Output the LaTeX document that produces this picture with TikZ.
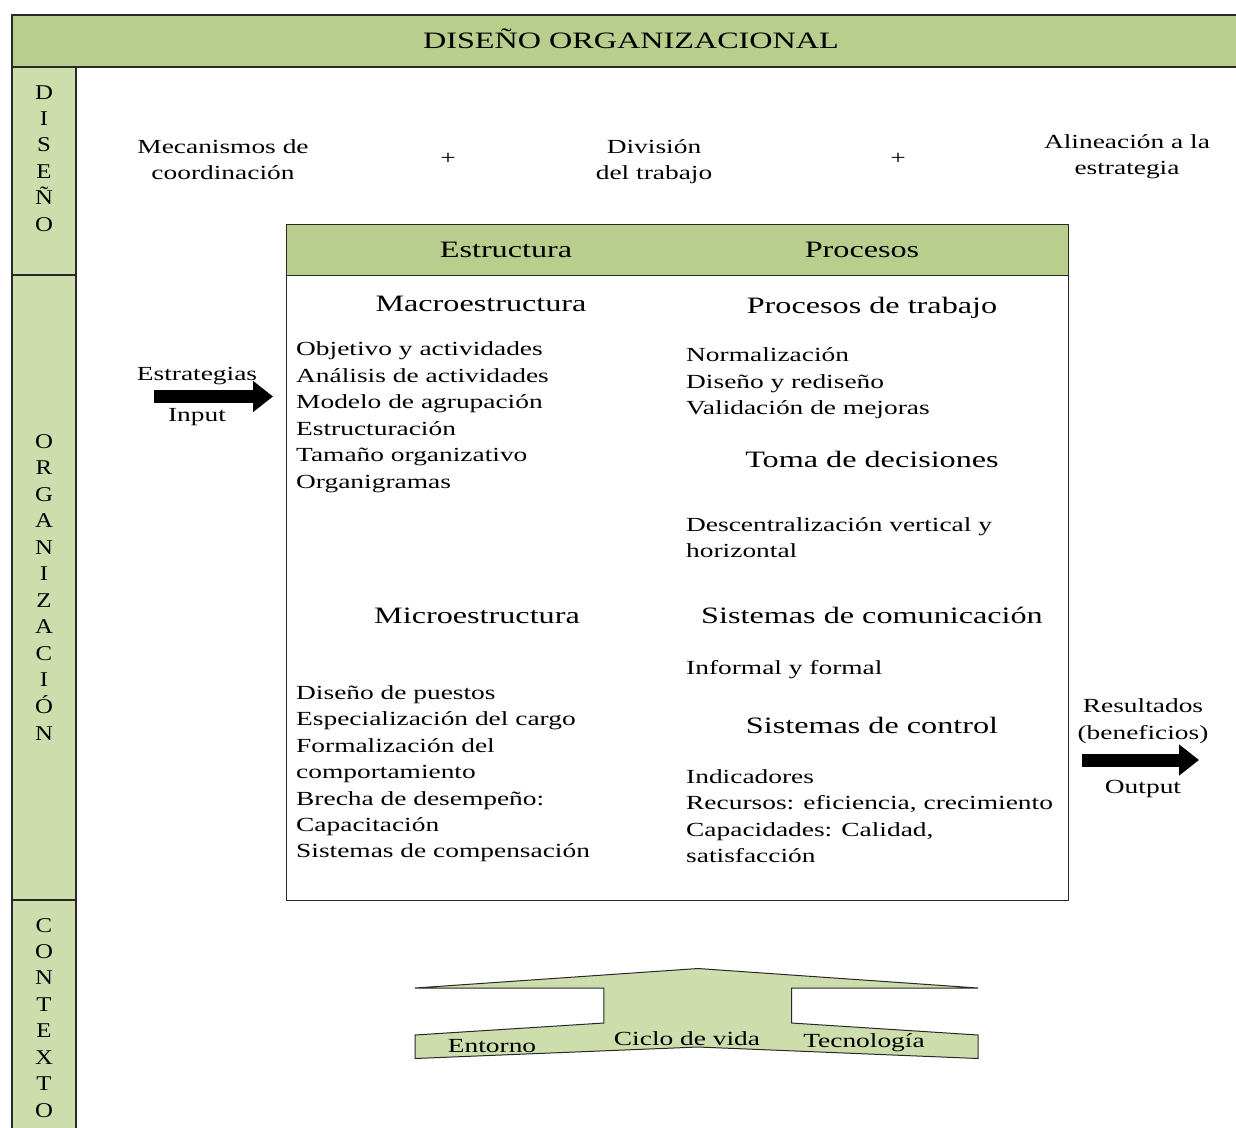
\documentclass[tikz,border=0pt]{standalone}
\usepackage{fontspec}
\setmainfont{Liberation Serif}[FakeStretch=1.37]
\newfontfamily\colfont{Liberation Serif}[FakeStretch=1.18]
\usetikzlibrary{arrows.meta}
\definecolor{barGreen}{RGB}{185,205,140}
\definecolor{paleGreen}{RGB}{205,221,172}
\definecolor{edge}{RGB}{40,40,40}
\begin{document}
\begin{tikzpicture}[x=1pt,y=-1pt,
  frame/.style={draw=edge,line width=1.2pt},
  txt/.style={inner sep=0pt,font=\fontsize{20}{24}\selectfont},
  head/.style={inner sep=0pt,anchor=base,font=\fontsize{23.5}{28}\selectfont},
  vert/.style={inner sep=0pt,anchor=base,font=\colfont\fontsize{21}{24}\selectfont},
  blockarrow/.style={line width=13pt,-{Triangle[length=20pt,width=30pt]}}]
\useasboundingbox (0,0) rectangle (1236,1127);

% title bar
\draw[frame,fill=barGreen] (12,15) rectangle (1245,67);
\node[head] (title) at (631,48.5) {DISEÑO ORGANIZACIONAL};

% side column with its three sections
\draw[frame,fill=paleGreen] (12,67) rectangle (76,275);
\draw[frame,fill=paleGreen] (12,275) rectangle (76,900);
\draw[frame,fill=paleGreen] (12,900) rectangle (76,1140);
\foreach \c [count=\i] in {D,I,S,E,Ñ,O}
  \node[vert] (dis\i) at (44,{99+26.4*(\i-1)}) {\c};
\foreach \c [count=\i] in {O,R,G,A,N,I,Z,A,C,I,Ó,N}
  \node[vert] (org\i) at (44,{448+26.55*(\i-1)}) {\c};
\foreach \c [count=\i] in {C,O,N,T,E,X,T,O}
  \node[vert] (con\i) at (44,{932+26.43*(\i-1)}) {\c};

% design components
\node[txt,anchor=base] (mec1) at (223,153) {Mecanismos de};
\node[txt,anchor=base] (mec2) at (223,179) {coordinación};
\node[txt] (plus1) at (448,159) {+};
\node[txt,anchor=base] (div1) at (654,153) {División};
\node[txt,anchor=base] (div2) at (654,179) {del trabajo};
\node[txt] (plus2) at (898,159) {+};
\node[txt,anchor=base] (ali1) at (1127,148) {Alineación a la};
\node[txt,anchor=base] (ali2) at (1127,174) {estrategia};

% main box
\draw[frame,line width=1pt] (286,224) rectangle (1068,900);
\draw[frame,line width=1pt,fill=barGreen] (286,224) rectangle (1068,275);
\node[head] (estr) at (506,257.5) {Estructura};
\node[head] (proc) at (862,257.5) {Procesos};

% structure column
\node[head] (macro) at (481,311) {Macroestructura};
\foreach \t [count=\i] in {Objetivo y actividades,Análisis de actividades,Modelo de agrupación,Estructuración,Tamaño organizativo,Organigramas}
  \node[txt,anchor=base west] (ma\i) at (296,{355.5+26.5*(\i-1)}) {\t};
\node[head] (micro) at (477,623) {Microestructura};
\foreach \t [count=\i] in {Diseño de puestos,Especialización del cargo,Formalización del,comportamiento,Brecha de desempeño:,Capacitación,Sistemas de compensación}
  \node[txt,anchor=base west] (mi\i) at (296,{699.5+26.4*(\i-1)}) {\t};

% process column
\node[head] (ptra) at (872,313) {Procesos de trabajo};
\foreach \t [count=\i] in {Normalización,Diseño y rediseño,Validación de mejoras}
  \node[txt,anchor=base west] (pt\i) at (686,{361.5+26.5*(\i-1)}) {\t};
\node[head] (toma) at (872,467) {Toma de decisiones};
\node[txt,anchor=base west] (td1) at (686,531.5) {Descentralización vertical y};
\node[txt,anchor=base west] (td2) at (686,557.5) {horizontal};
\node[head] (scom) at (872,623) {Sistemas de comunicación};
\node[txt,anchor=base west] (sc1) at (686,674.5) {Informal y formal};
\node[head] (sctl) at (872,733) {Sistemas de control};
\foreach \t [count=\i] in {Indicadores,{Recursos: eficiencia, crecimiento},{Capacidades: Calidad,},satisfacción}
  \node[txt,anchor=base west] (ct\i) at (686,{783.5+26.4*(\i-1)}) {\t};

% input arrow
\node[txt,anchor=base] (inTop) at (197,380) {Estrategias};
\node[txt,anchor=base] (inBot) at (197,421) {Input};
\coordinate (inS) at (154,396.5);
\coordinate (inE) at (273,396.5);
\draw[blockarrow] (inS) -- (inE);

% output arrow
\node[txt,anchor=base] (outA) at (1143,712) {Resultados};
\node[txt,anchor=base] (outB) at (1143,739) {(beneficios)};
\node[txt,anchor=base] (outC) at (1143,793) {Output};
\coordinate (outS) at (1082,760);
\coordinate (outE) at (1199,760);
\draw[blockarrow] (outS) -- (outE);

% context shape
\draw[draw=edge,line width=1pt,fill=paleGreen]
  (415,988) -- (698,968.5) -- (978,988) -- (791.5,988) -- (791.5,1023)
  -- (978,1035) -- (978,1058.5) -- (698,1047) -- (415,1058.5) -- (415,1035)
  -- (603.8,1023) -- (603.8,988) -- cycle;
\node[txt,anchor=base] (ent) at (492,1052) {Entorno};
\node[txt,anchor=base] (cic) at (687,1045) {Ciclo de vida};
\node[txt,anchor=base] (tec) at (864,1047) {Tecnología};
\end{tikzpicture}
\end{document}
